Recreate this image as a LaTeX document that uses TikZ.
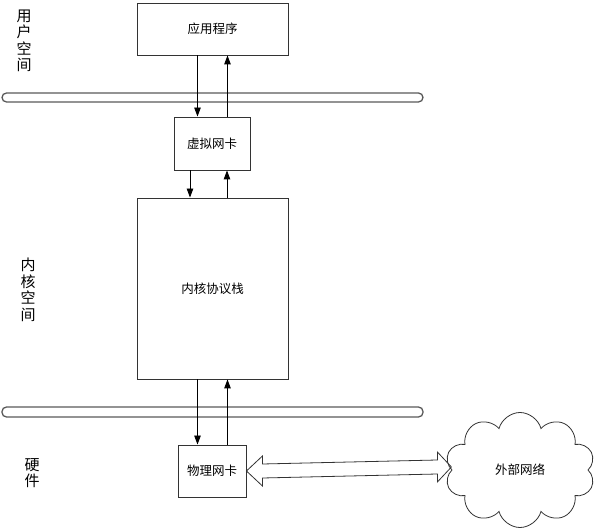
\documentclass[tikz,border=0pt]{standalone}
\usepackage{fontspec}
\newfontfamily\cjk{Noto Sans CJK SC}
\usetikzlibrary{arrows.meta,shapes.symbols,calc}

\tikzset{
  box/.style={draw=black!80, line width=0.9pt, fill=white, inner sep=0pt,
    font=\cjk\fontsize{12.5}{14}\selectfont},
  bar/.style={draw=black!65, line width=1.3pt, rounded corners=4.5pt},
  flow/.style={-{Triangle[length=9pt,width=6.5pt]}, line width=0.9pt},
  side/.style={font=\cjk\fontsize{15}{16.5}\selectfont, align=center, inner sep=0pt},
}

\begin{document}
\begin{tikzpicture}[x=1pt,y=-1pt]
\useasboundingbox (0,0) rectangle (598,529);

% Layer labels
\node[side] (user) at (24,41) {用\\户\\空\\间};
\node[side] (kernel) at (28,290) {内\\核\\空\\间};
\node[side] (hw) at (32,473) {硬\\件};

% Layer borders
\draw[bar] (2,93) rectangle (423,102);
\draw[bar] (2,407) rectangle (423,417);

% Boxes
\node[box, minimum width=151pt, minimum height=52pt] (app) at (212.5,29) {应用程序};
\node[box, minimum width=76pt, minimum height=53pt] (vnic) at (212,143.5) {虚拟网卡};
\node[box, minimum width=151pt, minimum height=181pt] (stack) at (212.5,288.5) {内核协议栈};
\node[box, minimum width=68pt, minimum height=52pt] (nic) at (212,471) {物理网卡};
\node[cloud, draw=black!80, line width=0.8pt, cloud puffs=10, aspect=1.3, inner sep=0pt,
  minimum width=150pt, minimum height=115pt, font=\cjk\fontsize{12.5}{14}\selectfont] (net) at (520,470) {外部网络};

% Data paths
\draw[flow] ([xshift=-15pt]app.south) -- ([xshift=-15pt]app.south |- vnic.north);
\draw[flow] ([xshift=15pt]app.south |- vnic.north) -- ([xshift=15pt]app.south);
\draw[flow] ([xshift=-22pt]vnic.south) -- ([xshift=-22pt]vnic.south |- stack.north);
\draw[flow] ([xshift=15pt]vnic.south |- stack.north) -- ([xshift=15pt]vnic.south);
\draw[flow] ([xshift=-15pt]stack.south) -- ([xshift=-15pt]stack.south |- nic.north);
\draw[flow] ([xshift=15pt]stack.south |- nic.north) -- ([xshift=15pt]stack.south);

% Link to outside
\coordinate (l) at (nic.east);
\coordinate (r) at ($(net.west)+(0,-3)$);
\draw[line width=0.8pt, draw=black!80] (l) -- ($(l)+(16,-15)$) -- ($(l)+(16,-7)$)
  -- ($(r)+(-14,-7)$) -- ($(r)+(-14,-15)$) -- (r) -- ($(r)+(-14,15)$)
  -- ($(r)+(-14,7)$) -- ($(l)+(16,7)$) -- ($(l)+(16,15)$) -- cycle;
\end{tikzpicture}
\end{document}
